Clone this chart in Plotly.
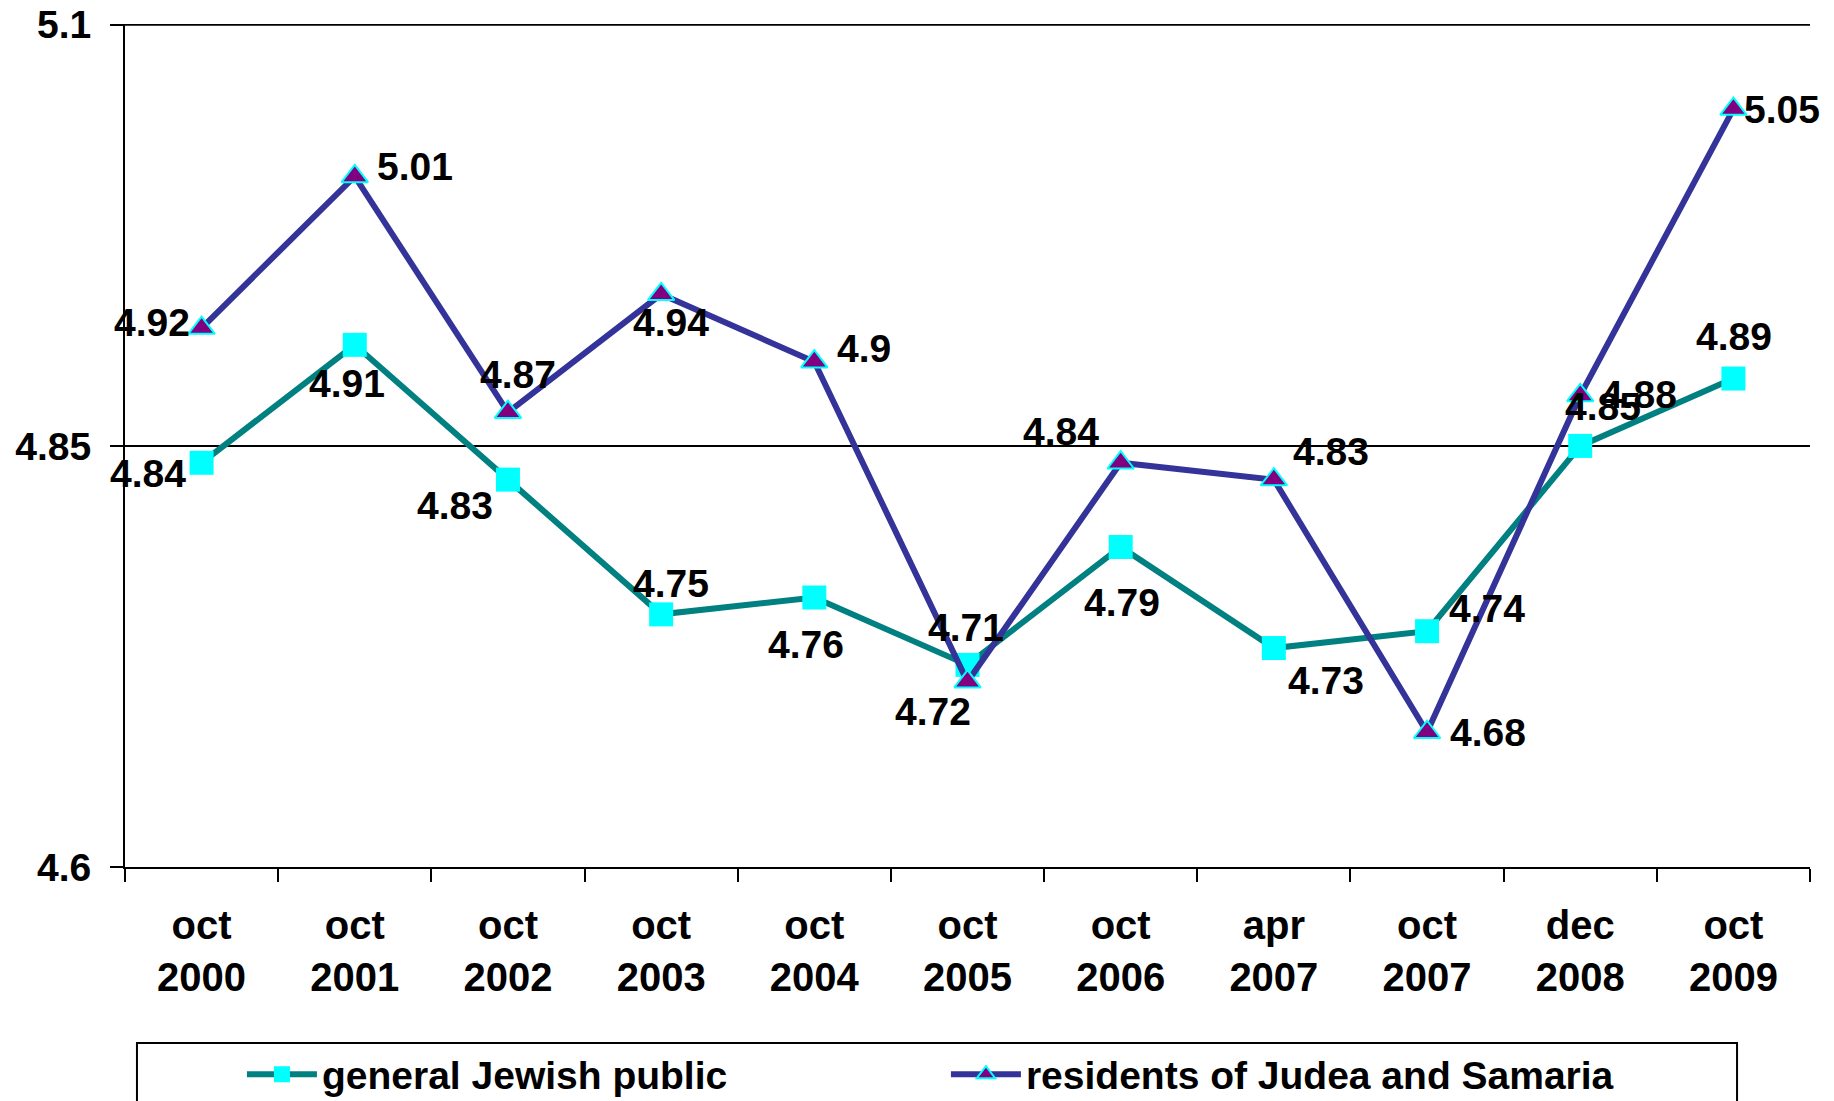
import plotly.graph_objects as go

# survey dates (category axis) and mean scores
categories = ["oct<br>2000", "oct<br>2001", "oct<br>2002", "oct<br>2003", "oct<br>2004",
              "oct<br>2005", "oct<br>2006", "apr<br>2007", "oct<br>2007", "dec<br>2008",
              "oct<br>2009"]
general_public = [4.84, 4.91, 4.83, 4.75, 4.76, 4.72, 4.79, 4.73, 4.74, 4.85, 4.89]
judea_samaria = [4.92, 5.01, 4.87, 4.94, 4.90, 4.71, 4.84, 4.83, 4.68, 4.88, 5.05]
y_ticks = [4.6, 4.85, 5.1]

# where each value label sits relative to its marker (px)
general_label_shift = [(-54, -11), (-8, -39), (-53, -26), (10, 31), (-8, -47), (-35, -47),
                       (1, -56), (52, -32), (60, 23), (23, 39), (1, 42)]
judea_label_shift = [(-50, 6), (60, 10), (10, 38), (10, -28), (50, 13), (-2, 54),
                     (-60, 31), (57, 28), (61, 0), (59, 1), (49, 0)]

FONT = "Liberation Sans, Arial, sans-serif"

fig = go.Figure()

fig.add_trace(go.Scatter(
    x=categories, y=general_public, name="general Jewish public",
    mode="lines+markers", legend="legend",
    line=dict(color="#008080", width=6),
    marker=dict(symbol="square", size=24, color="#00FFFF", line=dict(width=0)),
))
fig.add_trace(go.Scatter(
    x=categories, y=judea_samaria, name="residents of Judea and Samaria",
    mode="lines+markers", legend="legend2",
    line=dict(color="#333399", width=6),
    marker=dict(symbol="triangle-up", size=23, color="#800080",
                line=dict(color="#00FFFF", width=2)),
))

annotations = []
for values, shifts in ((general_public, general_label_shift), (judea_samaria, judea_label_shift)):
    for cat, v, (dx, dy) in zip(categories, values, shifts):
        annotations.append(dict(
            x=cat, y=v, xref="x", yref="y", text=f"{v:g}", showarrow=False,
            xshift=dx, yshift=dy, xanchor="center", yanchor="middle",
            font=dict(family=FONT, size=39, color="black", weight="bold"),
        ))

legend_style = dict(
    orientation="h", yanchor="middle", xanchor="left", y=-0.246,
    bgcolor="rgba(0,0,0,0)", borderwidth=0, itemwidth=70,
    font=dict(family=FONT, size=39, color="black", weight="bold"),
)

# the page body adds an 8px margin, so the figure is 8px smaller and shifted back
fig.update_layout(
    width=1826, height=1093,
    margin=dict(l=117, r=24, t=16, b=234, autoexpand=False),
    plot_bgcolor="white", paper_bgcolor="white",
    font=dict(family=FONT, size=39, color="black", weight="bold"),
    showlegend=True,
    legend=dict(x=0.0694, **legend_style),
    legend2=dict(x=0.4872, **legend_style),
    annotations=annotations,
    shapes=[
        # legend frame, running off the bottom of the page like the original
        dict(type="rect", xref="paper", yref="paper",
             x0=0.0071, x1=0.9567, y0=-0.2088, y1=-0.32,
             line=dict(color="black", width=2), fillcolor="rgba(0,0,0,0)"),
        # top gridline (plotly drops the one on the range edge)
        dict(type="line", xref="paper", yref="y", x0=0, x1=1,
             y0=y_ticks[-1], y1=y_ticks[-1], line=dict(color="black", width=2),
             layer="below"),
    ],
    xaxis=dict(
        type="category", range=[-0.5, 10.5], automargin=False,
        showline=True, linecolor="black", linewidth=2,
        ticks="outside", tickson="boundaries", ticklen=13, tickwidth=2, tickcolor="black",
        showgrid=False, ticklabelstandoff=22,
        tickfont=dict(family=FONT, size=40, color="black", weight="bold"),
    ),
    yaxis=dict(
        range=[4.6, 5.1005], tickvals=y_ticks, ticktext=[f"{t:g}" for t in y_ticks],
        automargin=False, ticklabeloverflow="allow",
        showline=True, linecolor="black", linewidth=2,
        ticks="outside", ticklen=13, tickwidth=2, tickcolor="black",
        showgrid=True, gridcolor="black", gridwidth=2, zeroline=False,
        ticklabelstandoff=11,
        tickfont=dict(family=FONT, size=39, color="black", weight="bold"),
    ),
)

fig.write_html("out.html")
